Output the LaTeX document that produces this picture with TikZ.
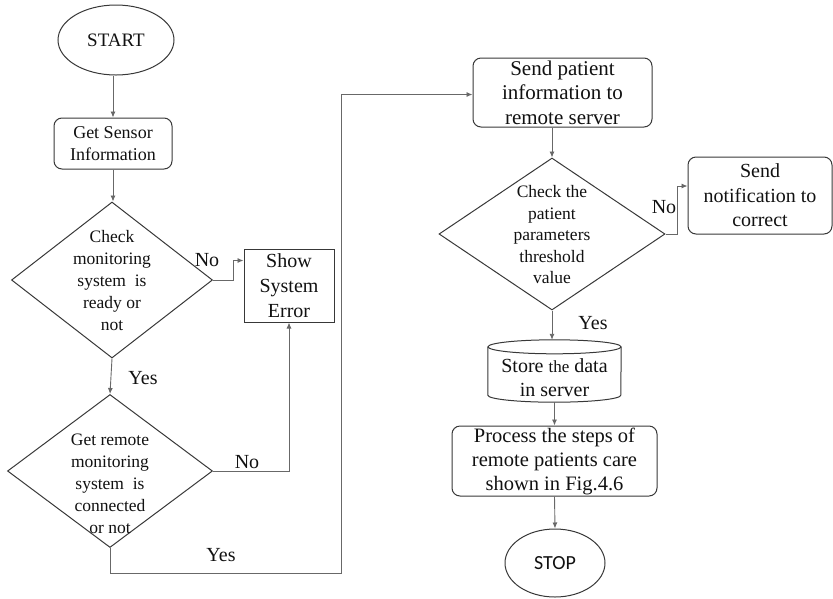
\documentclass[tikz,border=0pt]{standalone}
\usepackage{fontspec}
\setmainfont{Liberation Serif}
\newfontfamily\stopfont{Carlito}
\usetikzlibrary{shapes.geometric,arrows.meta,calc}
\definecolor{boxline}{HTML}{383838}
\definecolor{wire}{HTML}{686868}
\definecolor{ink}{HTML}{111111}
\begin{document}
\begin{tikzpicture}[x=1pt,y=-1pt,
  every node/.style={text=ink},
  small/.style={font=\fontsize{18}{22}\selectfont},
  big/.style={font=\fontsize{21}{24.5}\selectfont},
  box/.style={draw=boxline,line width=1pt,inner sep=0pt,align=center},
  roundbox/.style={box,rounded corners=8pt},
  terminal/.style={box,ellipse},
  decision/.style={draw=boxline,line width=1pt,diamond,inner sep=0pt},
  arr/.style={draw=wire,line width=0.9pt,-{Latex[length=6pt,width=5pt]}},
  lbl/.style={font=\fontsize{20}{22}\selectfont,inner sep=0pt}
]
\useasboundingbox (0,0) rectangle (833,598);

% left column
\node[terminal,minimum width=116pt,minimum height=70pt,font=\fontsize{19}{22}\selectfont] (start) at (116,40) {START};
\node[roundbox,small,minimum width=118pt,minimum height=51pt] (gsi) at (113,143.5) {Get Sensor\\Information};

\node[decision,minimum width=201pt,minimum height=156pt] (d1) at (112,280) {};
\node[align=center,inner sep=0pt,font=\fontsize{17.5}{22}\selectfont] (d1t) at (112,281) {Check\\monitoring\\system\ \ is\\ready or\\not};

\node[box,minimum width=90pt,minimum height=73pt,font=\fontsize{20}{25}\selectfont] (err) at (289,285.5) {Show\\System\\Error};

\node[decision,minimum width=205pt,minimum height=153pt] (d2) at (110,471) {};
\node[align=center,inner sep=0pt,font=\fontsize{17.5}{22}\selectfont] (d2t) at (110,484) {Get remote\\monitoring\\system\ \ is\\connected\\or not};

% right column
\node[roundbox,big,minimum width=179pt,minimum height=69pt] (send) at (562.5,92.5) {Send patient\\information to\\remote server};

\node[decision,minimum width=226pt,minimum height=152pt] (d3) at (552,234) {};
\node[align=center,inner sep=0pt,font=\fontsize{17.5}{21.5}\selectfont] (d3t) at (552,235) {Check the\\patient\\parameters\\threshold\\value};

\node[roundbox,font=\fontsize{20}{24.5}\selectfont,minimum width=144pt,minimum height=77pt] (notif) at (760,195.5) {Send\\notification to\\correct};

% data store (cylinder)
\node[inner sep=0pt,minimum width=133pt,minimum height=62pt] (db) at (554.5,371) {};
\draw[boxline,line width=1pt]
  ($(db.north)+(0,7)$) ellipse [x radius=66.5pt,y radius=7pt];
\draw[boxline,line width=1pt]
  ($(db.north west)+(0,7)$) -- ($(db.south west)+(0,-7)$)
  arc [start angle=180,end angle=360,x radius=66.5pt,y radius=7pt]
  -- ($(db.north east)+(0,7)$);
\node[align=center,inner sep=0pt,font=\fontsize{20}{24}\selectfont] (dbt) at (554.5,378) {Store {\fontsize{17}{24}\selectfont the} data\\in server};

\node[roundbox,font=\fontsize{20.5}{24}\selectfont,minimum width=205pt,minimum height=70pt] (proc) at (554.5,461) {Process the steps of\\remote patients care\\shown in Fig.4.6};

\node[terminal,minimum width=100pt,minimum height=68pt,font=\stopfont\fontsize{20}{22}\selectfont] (stop) at (555,563) {STOP};

% connectors
\draw[arr] (start.south -| gsi.north) -- (gsi.north);
\draw[arr] (gsi.south) -- (gsi.south |- d1.north);
\draw[arr] (d1.south) -- (d2.north);
\draw[arr] (d1.east) -- ++(20,0) |- ([yshift=25pt]err.west);
\draw[arr] (d2.east) -| (err.south);
\draw[arr] (d2.south) |- (341,573) |- ([yshift=-2pt]send.west);
\draw[arr] (d3.north |- send.south) -- (d3.north);
\draw[arr] (d3.east) -- ++(12,0) |- ([yshift=9.5pt]notif.west);
\draw[arr] (d3.south) -- (d3.south |- db.north);
\draw[arr] (db.south) -- (proc.north);
\draw[arr] (proc.south) -- (stop.north);

% branch labels
\node[lbl] (n1) at (207,260) {No};
\node[lbl] (y1) at (143,378) {Yes};
\node[lbl] (n2) at (247,462) {No};
\node[lbl] (y2) at (221,555) {Yes};
\node[lbl] (n3) at (664,207) {No};
\node[lbl] (y3) at (593,323) {Yes};
\end{tikzpicture}
\end{document}
